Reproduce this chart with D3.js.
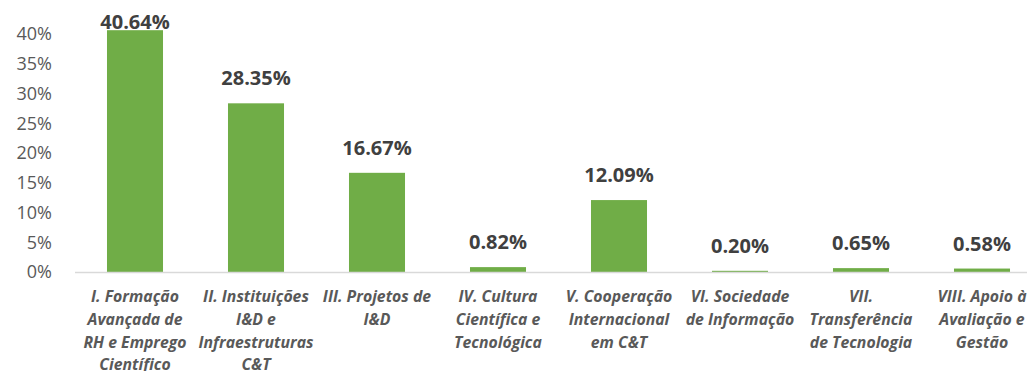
<!DOCTYPE html>
<html>
<head>
<meta charset="utf-8">
<script src="https://cdn.jsdelivr.net/npm/d3@7/dist/d3.min.js"></script>
<style>
  html, body { margin: 0; padding: 0; background: #fff; }
  svg { display: block; }
</style>
</head>
<body>
<svg id="chart" width="1027" height="371"></svg>
<script>
// Programme areas (label lines) and their share of funding, in %
const categories = [
  ["I. Formação", "Avançada de", "RH e Emprego", "Científico"],
  ["II. Instituições", "I&D e", "Infraestruturas", "C&T"],
  ["III. Projetos de", "I&D"],
  ["IV. Cultura", "Científica e", "Tecnológica"],
  ["V. Cooperação", "Internacional", "em C&T"],
  ["VI. Sociedade", "de Informação"],
  ["VII.", "Transferência", "de Tecnologia"],
  ["VIII. Apoio à", "Avaliação e", "Gestão"]
];
const values = [40.64, 28.35, 16.67, 0.82, 12.09, 0.20, 0.65, 0.58];
const yTicks = [0, 5, 10, 15, 20, 25, 30, 35, 40];

const svg = d3.select("#chart");
const font = "'Open Sans', sans-serif";

const x = d3.scaleBand()
  .domain(d3.range(categories.length))
  .range([74.5, 1042.5])
  .paddingInner(0.537)
  .paddingOuter(0.2685);

const y = d3.scaleLinear().domain([0, 40]).range([272, 34]);

// Y axis labels (no axis line, no ticks)
const yAxis = svg.append("g")
  .attr("transform", "translate(52,0)")
  .call(d3.axisLeft(y).tickValues(yTicks).tickFormat(d => d + "%").tickSize(0).tickPadding(0));
yAxis.select(".domain").remove();
yAxis.selectAll("text")
  .attr("font-family", font)
  .attr("font-size", 18)
  .attr("fill", "#595959");

// Bars
svg.append("g").selectAll("rect")
  .data(values)
  .join("rect")
  .attr("x", (d, i) => x(i))
  .attr("width", x.bandwidth())
  .attr("y", d => y(d))
  .attr("height", d => y(0) - y(d))
  .attr("fill", "#70AD47");

// Category axis baseline
svg.append("line")
  .attr("x1", 75).attr("x2", 1027)
  .attr("y1", y(0) + 0.5).attr("y2", y(0) + 0.5)
  .attr("stroke", "#D9D9D9")
  .attr("stroke-width", 1.5);

// Value labels above bars
svg.append("g").selectAll("text")
  .data(values)
  .join("text")
  .attr("x", (d, i) => x(i) + x.bandwidth() / 2)
  .attr("y", d => Math.max(y(d) - 18, 29))
  .attr("text-anchor", "middle")
  .attr("font-family", font)
  .attr("font-weight", "bold")
  .attr("font-size", 20)
  .attr("fill", "#404040")
  .text(d => d.toFixed(2) + "%");

// Category labels, several lines each
const cat = svg.append("g").selectAll("text")
  .data(categories)
  .join("text")
  .attr("text-anchor", "middle")
  .attr("font-family", font)
  .attr("font-weight", "bold")
  .attr("font-style", "italic")
  .attr("font-size", 15.8)
  .attr("fill", "#595959");
cat.selectAll("tspan")
  .data((d, i) => d.map(t => ({ t, i })))
  .join("tspan")
  .attr("x", d => x(d.i) + x.bandwidth() / 2)
  .attr("y", (d, j) => 302 + j * 22.8)
  .text(d => d.t);
</script>
</body>
</html>
